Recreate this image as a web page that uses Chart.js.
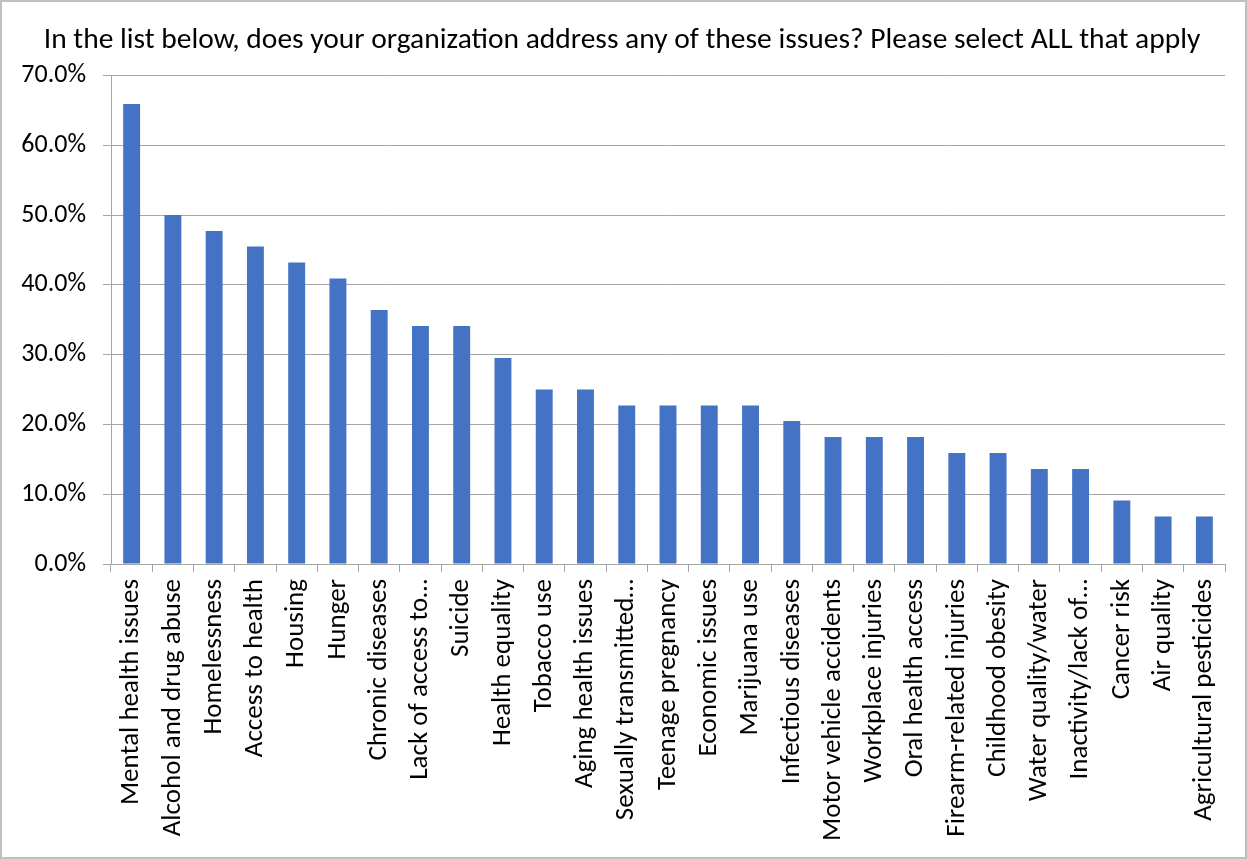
<!DOCTYPE html>
<html>
<head>
<meta charset="utf-8">
<script src="https://cdn.jsdelivr.net/npm/chart.js@4.4.1/dist/chart.umd.min.js"></script>
<style>
  html, body { margin: 0; padding: 0; background: #fff; }
  #wrap { width: 1247px; height: 859px; position: relative; }
</style>
</head>
<body>
<div id="wrap"><canvas id="issuesChart" width="1247" height="859"></canvas></div>
<script>
    "use strict";

    const chartTitle = "In the list below, does your organization address any of these issues? Please select ALL that apply";

    const issueLabels = [
        "Mental health issues", "Alcohol and drug abuse", "Homelessness", "Access to health",
        "Housing", "Hunger", "Chronic diseases", "Lack of access to…", "Suicide",
        "Health equality", "Tobacco use", "Aging health issues", "Sexually transmitted…",
        "Teenage pregnancy", "Economic issues", "Marijuana use", "Infectious diseases",
        "Motor vehicle accidents", "Workplace injuries", "Oral health access",
        "Firearm-related injuries", "Childhood obesity", "Water quality/water",
        "Inactivity/lack of…", "Cancer risk", "Air quality", "Agricultural pesticides"
    ];

    // percent of respondents
    const issueShares = [
        65.9, 50.0, 47.7, 45.5, 43.2, 40.9, 36.4, 34.1, 34.1,
        29.5, 25.0, 25.0, 22.7, 22.7, 22.7, 22.7, 20.5,
        18.2, 18.2, 18.2, 15.9, 15.9, 13.6, 13.6, 9.1, 6.8, 6.8
    ];

    const yTicks = [0, 10, 20, 30, 40, 50, 60, 70];

    const FONT = "Carlito, Lato, 'Liberation Sans', sans-serif";
    const GRID = "#a6a6a6";

    /* frame round the whole picture */
    const framePlugin = {
        id: "frame",
        beforeDraw(chart) {
            const ctx = chart.ctx;
            ctx.save();
            ctx.fillStyle = "#fff";
            ctx.fillRect(0, 0, chart.width, chart.height);
            ctx.strokeStyle = "#bfbfbf";
            ctx.lineWidth = 2;
            ctx.strokeRect(1, 1, chart.width - 2, chart.height - 2);
            ctx.restore();
        }
    };

    new Chart(document.getElementById("issuesChart"), {
        type: "bar",
        data: {
            labels: issueLabels,
            datasets: [{
                data: issueShares,
                backgroundColor: "#4472c4",
                categoryPercentage: 0.41,
                barPercentage: 1.0
            }]
        },
        options: {
            responsive: false,
            animation: false,
            devicePixelRatio: 1,
            layout: { padding: { left: 19, right: 22, top: 0, bottom: 0 } },
            plugins: {
                legend: { display: false },
                tooltip: { enabled: false },
                title: {
                    display: true,
                    text: chartTitle,
                    color: "#000",
                    font: { family: FONT, size: 29.5, weight: "normal", lineHeight: 1.2 },
                    padding: { top: 23, bottom: 17 }
                }
            },
            scales: {
                x: {
                    grid: {
                        display: true,
                        drawOnChartArea: false,
                        drawTicks: true,
                        tickLength: 8,
                        color: GRID,
                        offset: true
                    },
                    border: { display: true, color: GRID, width: 1 },
                    ticks: {
                        color: "#000",
                        autoSkip: false,
                        maxRotation: 90,
                        minRotation: 90,
                        padding: 7,
                        font: { family: FONT, size: 27 }
                    },
                    afterFit(scale) { scale.height = 859 - 564; }
                },
                y: {
                    min: 0,
                    max: 70,
                    afterBuildTicks(scale) {
                        scale.ticks = yTicks.map(v => ({ value: v }));
                    },
                    grid: {
                        color: GRID,
                        drawTicks: true,
                        tickLength: 8
                    },
                    border: { display: true, color: GRID, width: 1 },
                    ticks: {
                        color: "#000",
                        padding: 17,
                        font: { family: FONT, size: 26 },
                        callback: v => v.toFixed(1) + "%"
                    },
                    afterFit(scale) { scale.width = 111 - 19; }
                }
            }
        },
        plugins: [framePlugin]
    });
</script>
</body>
</html>
